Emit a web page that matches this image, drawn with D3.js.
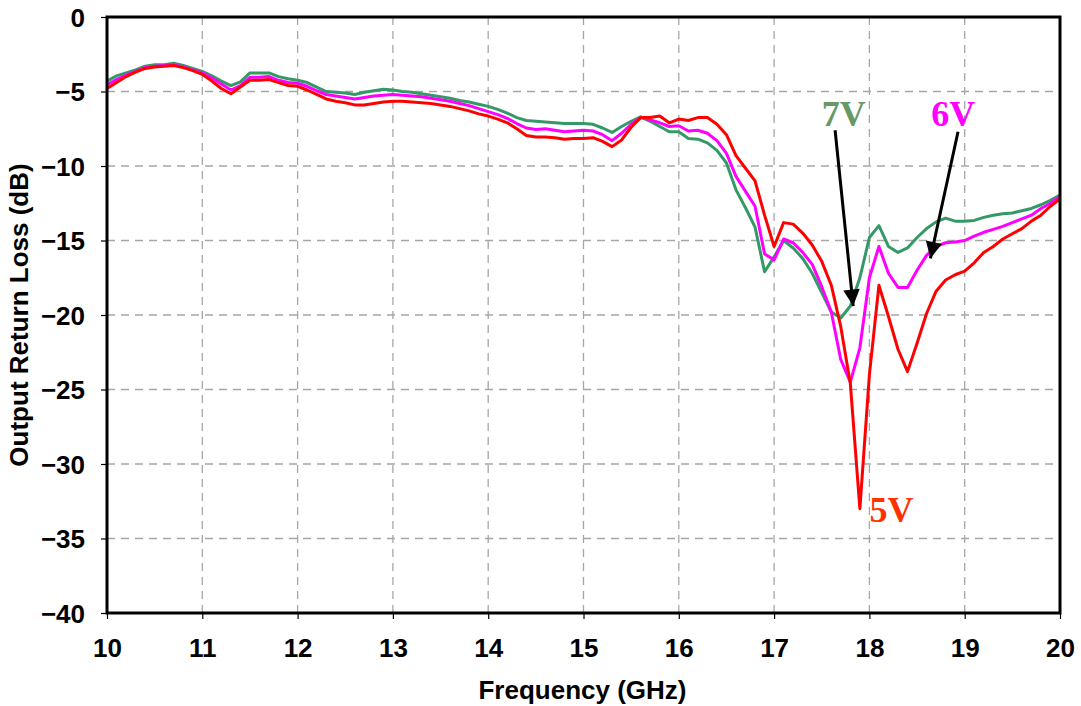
<!DOCTYPE html>
<html>
<head>
<meta charset="utf-8">
<style>
  html, body { margin: 0; padding: 0; background: #fff; }
  svg { display: block; }
  .tick text { font-family: Arial, "Liberation Sans", sans-serif; font-weight: bold; font-size: 26px; fill: #000; }
  .lbl { font-family: Arial, "Liberation Sans", sans-serif; font-weight: bold; font-size: 26px; }
  .note { font-family: "Times New Roman", "Liberation Serif", serif; font-weight: bold; font-size: 36px; }
</style>
<script src="https://cdn.jsdelivr.net/npm/d3@7"></script>
</head>
<body>
<svg id="chart" width="1081" height="706"></svg>
<script>
// frequency grid, GHz
var freq = d3.range(0, 101).map(function (i) { return 10 + i / 10; });

// output return loss, dB
var v5 = [-4.8,-4.4,-4.0,-3.7,-3.45,-3.35,-3.3,-3.25,-3.4,-3.6,
  -3.85,-4.3,-4.8,-5.15,-4.7,-4.25,-4.25,-4.2,-4.4,-4.6,
  -4.65,-4.9,-5.2,-5.5,-5.65,-5.75,-5.9,-5.9,-5.8,-5.7,
  -5.65,-5.65,-5.7,-5.75,-5.8,-5.9,-6.0,-6.15,-6.3,-6.5,
  -6.65,-6.85,-7.1,-7.5,-7.95,-8.05,-8.05,-8.1,-8.2,-8.15,
  -8.15,-8.1,-8.35,-8.7,-8.25,-7.4,-6.75,-6.75,-6.65,-7.1,
  -6.85,-6.95,-6.75,-6.75,-7.2,-7.9,-9.3,-10.15,-11.0,-13.3,
  -15.4,-13.8,-13.9,-14.5,-15.3,-16.4,-18.0,-20.8,-24.6,-33.0,
  -24.0,-18.0,-20.1,-22.3,-23.8,-21.9,-19.9,-18.4,-17.65,-17.3,
  -17.05,-16.5,-15.8,-15.4,-14.9,-14.55,-14.2,-13.7,-13.3,-12.7,
  -12.2];
var v6 = [-4.55,-4.2,-3.9,-3.65,-3.4,-3.3,-3.25,-3.2,-3.35,-3.55,
  -3.75,-4.1,-4.5,-4.9,-4.6,-4.05,-4.05,-4.0,-4.25,-4.4,
  -4.45,-4.65,-4.95,-5.2,-5.3,-5.4,-5.5,-5.4,-5.3,-5.25,
  -5.2,-5.25,-5.3,-5.35,-5.45,-5.55,-5.65,-5.8,-5.95,-6.15,
  -6.35,-6.55,-6.8,-7.15,-7.45,-7.55,-7.5,-7.6,-7.7,-7.65,
  -7.6,-7.65,-7.9,-8.3,-7.8,-7.2,-6.75,-6.9,-7.1,-7.35,
  -7.3,-7.65,-7.6,-7.8,-8.3,-9.15,-10.7,-11.7,-12.7,-15.9,
  -16.3,-14.9,-15.15,-15.8,-16.6,-18.1,-19.8,-23.0,-24.5,-22.2,
  -17.5,-15.4,-17.2,-18.15,-18.15,-17.0,-16.0,-15.4,-15.15,-15.1,
  -15.0,-14.7,-14.45,-14.25,-14.05,-13.8,-13.55,-13.3,-12.85,-12.5,
  -12.05];
var v7 = [-4.3,-3.95,-3.75,-3.55,-3.3,-3.2,-3.2,-3.1,-3.25,-3.45,
  -3.65,-3.95,-4.3,-4.6,-4.35,-3.75,-3.75,-3.75,-4.0,-4.15,
  -4.25,-4.4,-4.7,-5.0,-5.05,-5.1,-5.2,-5.05,-4.95,-4.85,
  -4.9,-5.0,-5.05,-5.15,-5.25,-5.35,-5.45,-5.6,-5.7,-5.85,
  -6.0,-6.2,-6.45,-6.75,-6.95,-7.0,-7.05,-7.1,-7.15,-7.15,
  -7.15,-7.2,-7.45,-7.75,-7.35,-7.0,-6.7,-7.0,-7.35,-7.7,
  -7.7,-8.15,-8.2,-8.45,-8.95,-9.8,-11.6,-12.8,-14.1,-17.1,
  -16.1,-15.0,-15.5,-16.2,-17.2,-18.5,-19.8,-20.2,-19.4,-17.5,
  -14.8,-14.0,-15.4,-15.8,-15.5,-14.8,-14.2,-13.75,-13.5,-13.7,
  -13.7,-13.65,-13.45,-13.3,-13.2,-13.15,-13.0,-12.85,-12.6,-12.3,
  -11.95];

var xTicks = [10, 11, 12, 13, 14, 15, 16, 17, 18, 19, 20];
var yTicks = [0, -5, -10, -15, -20, -25, -30, -35, -40];

var series = [
  { name: "7V", values: v7, color: "#339966" },
  { name: "6V", values: v6, color: "#ff00ff" },
  { name: "5V", values: v5, color: "#ff0000" }
];

// annotation labels: [freq, dB] of text and arrow ends
var notes = [
  { text: "7V", color: "#669966", at: [17.5, -7.3], from: [17.64, -7.6], to: [17.83, -19.4] },
  { text: "6V", color: "#ff00ff", at: [18.65, -7.3], from: [18.93, -7.7], to: [18.64, -16.2] },
  { text: "5V", color: "#ff3300", at: [18.0, -33.9] }
];

var svg = d3.select("#chart");
var L = 107, R = 1060, T = 17, B = 613;

var x = d3.scaleLinear().domain([10, 20]).range([L, R]);
var y = d3.scaleLinear().domain([-40, 0]).range([B, T]);

// grid
svg.append("g").selectAll("line").data(xTicks.slice(1, -1)).join("line")
  .attr("x1", function (d) { return x(d); }).attr("x2", function (d) { return x(d); })
  .attr("y1", T).attr("y2", B)
  .attr("stroke", "#a6a6a6").attr("stroke-width", 1.3).attr("stroke-dasharray", "8,6");
svg.append("g").selectAll("line").data(yTicks.slice(1, -1)).join("line")
  .attr("x1", L).attr("x2", R)
  .attr("y1", function (d) { return y(d); }).attr("y2", function (d) { return y(d); })
  .attr("stroke", "#a6a6a6").attr("stroke-width", 1.3).attr("stroke-dasharray", "8,6");

// axes
var xAxis = svg.append("g").attr("transform", "translate(0," + B + ")")
  .call(d3.axisBottom(x).tickValues(xTicks).tickSize(6).tickPadding(20).tickFormat(d3.format("d")));
var yAxis = svg.append("g").attr("transform", "translate(" + L + ",0)")
  .call(d3.axisLeft(y).tickValues(yTicks).tickSize(6).tickPadding(16).tickFormat(d3.format("d")));
[xAxis, yAxis].forEach(function (a) {
  a.select(".domain").remove();
  a.selectAll(".tick line").attr("stroke", "#000").attr("stroke-width", 1.2);
});
yAxis.selectAll(".tick text").attr("dy", "0.36em");

// curves
var line = d3.line()
  .x(function (d, i) { return x(freq[i]); })
  .y(function (d) { return y(d); });
svg.append("g").selectAll("path").data(series).join("path")
  .attr("d", function (s) { return line(s.values); })
  .attr("fill", "none")
  .attr("stroke", function (s) { return s.color; })
  .attr("stroke-width", 3)
  .attr("stroke-linejoin", "round");

// frame
svg.append("rect").attr("x", L).attr("y", T).attr("width", R - L).attr("height", B - T)
  .attr("fill", "none").attr("stroke", "#000").attr("stroke-width", 3);

// annotations
svg.append("defs").append("marker")
  .attr("id", "head").attr("viewBox", "0 0 10 10").attr("refX", 10).attr("refY", 5)
  .attr("markerWidth", 6).attr("markerHeight", 5.5).attr("markerUnits", "strokeWidth")
  .attr("orient", "auto")
  .append("path").attr("d", "M0,0L10,5L0,10Z").attr("fill", "#000");

notes.forEach(function (n) {
  svg.append("text").attr("class", "note")
    .attr("x", x(n.at[0])).attr("y", y(n.at[1]))
    .attr("fill", n.color).text(n.text);
  if (n.from) {
    svg.append("line")
      .attr("x1", x(n.from[0])).attr("y1", y(n.from[1]))
      .attr("x2", x(n.to[0])).attr("y2", y(n.to[1]))
      .attr("stroke", "#000").attr("stroke-width", 3)
      .attr("marker-end", "url(#head)");
  }
});

// axis titles
svg.append("text").attr("class", "lbl")
  .attr("x", (L + R) / 2 - 1).attr("y", 699).attr("text-anchor", "middle")
  .text("Frequency (GHz)");
svg.append("text").attr("class", "lbl")
  .attr("transform", "translate(28," + (T + B) / 2 + ") rotate(-90)")
  .attr("text-anchor", "middle")
  .text("Output Return Loss (dB)");
</script>
</body>
</html>
